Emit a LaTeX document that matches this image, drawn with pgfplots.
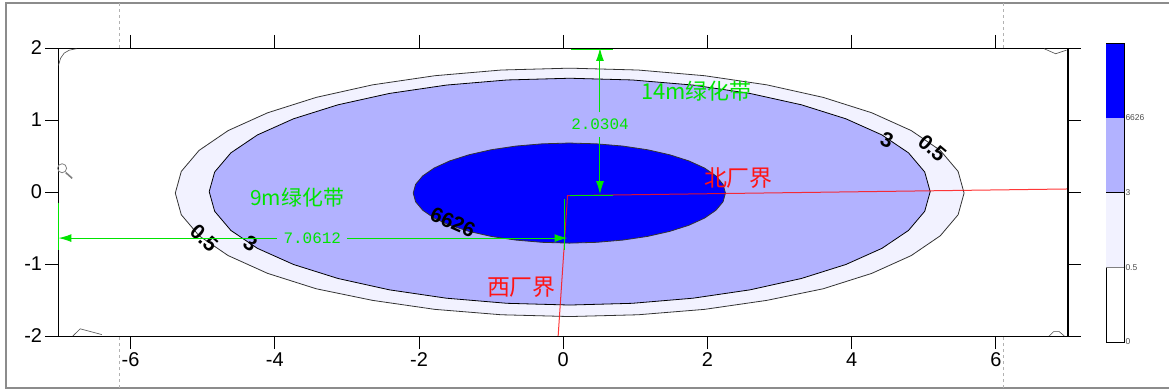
\documentclass[border=0pt]{standalone}
\usepackage{pgfplots}
\pgfplotsset{compat=1.18}
\usepackage{fontspec}
\setmainfont{Liberation Sans}
\newfontfamily\cjk{Noto Sans CJK SC}
\newfontfamily\monofont{Liberation Mono}
\usetikzlibrary{arrows.meta}

\definecolor{levA}{RGB}{242,242,255}   % 0.5 - 3
\definecolor{levB}{RGB}{178,178,255}   % 3 - 6626
\definecolor{levC}{RGB}{0,0,255}       % > 6626
\definecolor{dimgreen}{RGB}{0,228,0}
\definecolor{bndred}{RGB}{255,20,20}

\begin{document}
\begin{tikzpicture}
\begin{axis}[
  at={(0,0)}, anchor=south west,
  x=72.1bp, y=72bp,
  xmin=-7, xmax=7, ymin=-2, ymax=2,
  xtick={-6,-4,...,6}, ytick={-2,-1,...,2},
  tick align=outside, major tick length=13bp,
  tick pos=both, xticklabel pos=lower, yticklabel pos=left,
  tick style={black, line width=0.7bp},
  axis line style={black, line width=0.8bp},
  ticklabel style={font=\fontsize{20}{24}\selectfont},
  /pgf/number format/assume math mode=true,
  clip=false,
]
% 0.5 contour
\addplot[fill=levA, draw=black!80, line width=0.8bp] coordinates {
(5.56,-0.015) (5.477,0.286) (5.23,0.578) (4.827,0.853) (4.28,1.10) (3.606,1.314)
(2.825,1.488) (1.961,1.615) (1.04,1.694) (0.09,1.72)
(-0.86,1.694) (-1.781,1.615) (-2.645,1.488) (-3.426,1.314) (-4.10,1.10)
(-4.647,0.853) (-5.05,0.578) (-5.297,0.286) (-5.38,-0.015)
(-5.297,-0.316) (-5.05,-0.608) (-4.647,-0.883) (-4.10,-1.13) (-3.426,-1.344)
(-2.645,-1.505) (-1.781,-1.630) (-0.86,-1.705) (0.09,-1.73)
(1.04,-1.705) (1.961,-1.630) (2.825,-1.505) (3.606,-1.344) (4.28,-1.13)
(4.827,-0.883) (5.23,-0.608) (5.477,-0.316) (5.56,-0.015)
};
% 3 contour
\addplot[fill=levB, draw=black, line width=0.8bp] coordinates {
(5.09,0.005) (5.014,0.278) (4.789,0.544) (4.42,0.793) (3.92,1.017) (3.304,1.211)
(2.59,1.369) (1.80,1.485) (0.958,1.556) (0.09,1.58)
(-0.778,1.556) (-1.62,1.485) (-2.41,1.369) (-3.124,1.211) (-3.74,1.017)
(-4.24,0.793) (-4.609,0.544) (-4.834,0.278) (-4.91,0.005)
(-4.834,-0.268) (-4.609,-0.534) (-4.24,-0.783) (-3.74,-1.007) (-3.124,-1.201)
(-2.41,-1.359) (-1.62,-1.475) (-0.778,-1.546) (0.09,-1.57)
(0.958,-1.546) (1.80,-1.475) (2.59,-1.359) (3.304,-1.201) (3.92,-1.007)
(4.42,-0.783) (4.789,-0.534) (5.014,-0.268) (5.09,0.005)
};
% 6626 contour
\addplot[fill=levC, draw=black!80, line width=0.8bp] coordinates {
(2.25,-0.015) (2.217,0.106) (2.119,0.223) (1.96,0.333) (1.743,0.432) (1.477,0.517)
(1.168,0.587) (0.825,0.638) (0.461,0.669) (0.085,0.68)
(-0.291,0.669) (-0.655,0.638) (-0.998,0.587) (-1.307,0.517) (-1.573,0.432)
(-1.79,0.333) (-1.949,0.223) (-2.047,0.106) (-2.08,-0.015)
(-2.047,-0.136) (-1.949,-0.253) (-1.79,-0.363) (-1.573,-0.462) (-1.307,-0.547)
(-0.998,-0.617) (-0.655,-0.668) (-0.291,-0.699) (0.085,-0.71)
(0.461,-0.699) (0.825,-0.668) (1.168,-0.617) (1.477,-0.547) (1.743,-0.462)
(1.96,-0.363) (2.119,-0.253) (2.217,-0.136) (2.25,-0.015)
};
% small 0.5 contour pieces in the corners
\addplot[black!70, line width=0.6bp] coordinates {(-7,1.76) (-6.97,1.86) (-6.92,1.93) (-6.85,1.97) (-6.75,1.99)};
\addplot[black!70, line width=0.6bp] coordinates {(6.67,1.99) (6.83,1.92) (6.98,1.97)};
\addplot[black!70, line width=0.6bp] coordinates {(-6.80,-2.0) (-6.70,-1.90) (-6.40,-1.98)};
\addplot[black!70, line width=0.6bp] coordinates {(6.74,-2.0) (6.80,-1.94) (6.88,-1.94) (6.95,-2.0)};

% contour labels
\node[font=\bfseries\fontsize{21}{21}\selectfont, rotate=-22] at (axis cs:4.49,0.72) {3};
\node[font=\bfseries\fontsize{21}{21}\selectfont, rotate=-40] at (axis cs:5.12,0.61) {0.5};
\node[font=\bfseries\fontsize{21}{21}\selectfont, rotate=-42] at (axis cs:-4.98,-0.64) {0.5};
\node[font=\bfseries\fontsize{21}{21}\selectfont, rotate=-32] at (axis cs:-4.34,-0.72) {3};
\node[font=\bfseries\fontsize{21}{21}\selectfont, rotate=-24] at (axis cs:-1.53,-0.42) {6626};

% site boundaries
\addplot[bndred, opacity=0.85, line width=1bp] coordinates {(-0.07,-2) (0.06,-0.05) (7,0.042)};

% dimension lines
\addplot[dimgreen, line width=1bp, -{Latex[length=13bp,width=8bp]}] coordinates {(-3.0,-0.64) (0.06,-0.64)};
\addplot[dimgreen, line width=1bp, -{Latex[length=13bp,width=8bp]}] coordinates {(-3.97,-0.64) (-7,-0.64)};
\addplot[dimgreen, line width=1bp] coordinates {(-7,-0.15) (-7,-0.81)};
\addplot[dimgreen, line width=1bp] coordinates {(0.02,-0.10) (0.02,-0.81)};
\addplot[dimgreen, line width=1bp, -{Latex[length=13bp,width=8bp]}] coordinates {(0.51,1.11) (0.51,2.0)};
\addplot[dimgreen, line width=1bp, -{Latex[length=13bp,width=8bp]}] coordinates {(0.51,0.76) (0.51,-0.03)};
\addplot[dimgreen, line width=1bp] coordinates {(0.11,1.975) (0.69,1.975)};
\addplot[dimgreen, line width=1bp] coordinates {(0.10,-0.045) (0.69,-0.045)};
\node[dimgreen, font=\monofont\fontsize{16}{16}\selectfont] at (axis cs:-3.48,-0.64) {7.0612};
\node[dimgreen, font=\monofont\fontsize{16}{16}\selectfont] at (axis cs:0.51,0.94) {2.0304};

% area labels
\node[dimgreen, font=\cjk\fontsize{22}{22}\selectfont] at (axis cs:1.845,1.40) {14m绿化带};
\node[dimgreen, font=\cjk\fontsize{21}{21}\selectfont] at (axis cs:-3.69,-0.08) {9m绿化带};
\node[bndred, font=\cjk\fontsize{23}{23}\selectfont] at (axis cs:2.43,0.19) {北厂界};
\node[bndred, font=\cjk\fontsize{23}{23}\selectfont] at (axis cs:-0.58,-1.32) {西厂界};

% magnifier cursor
\draw[gray, line width=0.8bp] (axis cs:-6.95,0.33) circle[radius=4.5bp];
\draw[gray, line width=1.6bp] (axis cs:-6.90,0.27) -- (axis cs:-6.81,0.19);

% heavier right border
\draw[black, line width=2bp] (rel axis cs:1,0) -- (rel axis cs:1,1);
\end{axis}

% colour scale
\begin{axis}[
  at={(1047.5bp,-6bp)}, anchor=south west,
  scale only axis, width=18bp, height=299bp,
  xmin=0, xmax=1, ymin=0, ymax=4,
  xtick=\empty, ytick={0,1,2,3}, yticklabels={0,0.5,3,6626},
  yticklabel pos=right, ytick style={draw=none},
  ticklabel style={font=\fontsize{8.5}{9}\selectfont, text=black!70},
  yticklabel style={xshift=-2bp},
  axis line style={black, line width=0.8bp},
]
\addplot[fill=levC, draw=none] coordinates {(0,3) (1,3) (1,4) (0,4)};
\addplot[fill=levB, draw=none] coordinates {(0,2) (1,2) (1,3) (0,3)};
\addplot[fill=levA, draw=none] coordinates {(0,1) (1,1) (1,2) (0,2)};
\addplot[black, line width=0.6bp] coordinates {(0,2) (1,2)};
\addplot[black!50, line width=0.8bp] coordinates {(0,1) (1,1)};
\draw[black, line width=2bp] (rel axis cs:0,1) -- (rel axis cs:1,1);
\end{axis}

% page frame and margin guides
\draw[black!45, line width=1.2bp] (-52.5bp,-52bp) rectangle (1130bp,333bp);
\draw[black!30, dash pattern=on 3bp off 3bp] (60.5bp,288bp) -- (60.5bp,333bp);
\draw[black!30, dash pattern=on 3bp off 3bp] (60.5bp,-52bp) -- (60.5bp,0bp);
\draw[black!30, dash pattern=on 3bp off 3bp] (944.5bp,288bp) -- (944.5bp,333bp);
\draw[black!30, dash pattern=on 3bp off 3bp] (944.5bp,-52bp) -- (944.5bp,0bp);

\pgfresetboundingbox
\path[use as bounding box] (-58.5bp,-56bp) rectangle (1110.5bp,336bp);
\end{tikzpicture}
\end{document}
